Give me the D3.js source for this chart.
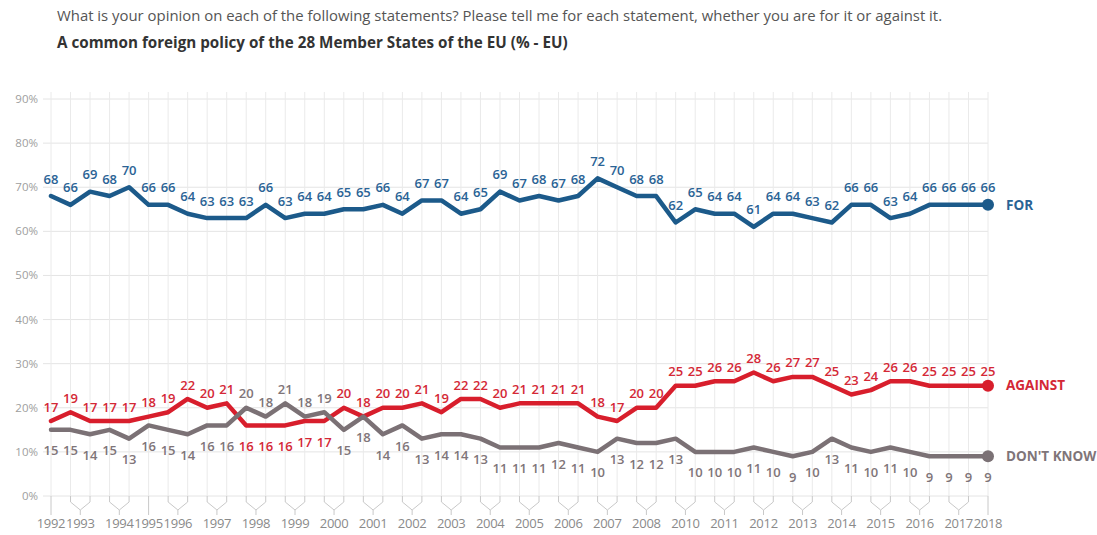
<!DOCTYPE html>
<html>
<head>
<meta charset="utf-8">
<script src="https://cdn.jsdelivr.net/npm/d3@7/dist/d3.min.js"></script>
<style>
  html, body { margin: 0; padding: 0; background: #fff; }
  svg { display: block; }
  text { font-family: "Open Sans", "Noto Sans", sans-serif; }
</style>
</head>
<body>
<svg id="chart" width="1097" height="535"></svg>
<script>
// Eurobarometer waves, spring and autumn of each year
const yearLabels = ["1992","1993","1994","1995","1996","1997","1998","1999","2000","2001","2002","2003","2004","2005","2006","2007","2008","2010","2011","2012","2013","2014","2015","2016","2017","2018"];
const wavesPerYear = [1,2,2,1,2,2,2,2,2,2,2,2,2,2,2,2,2,2,2,2,2,2,2,2,2,1];

const forValues = [68,66,69,68,70,66,66,64,63,63,63,66,63,64,64,65,65,66,64,67,67,64,65,69,67,68,67,68,72,70,68,68,62,65,64,64,61,64,64,63,62,66,66,63,64,66,66,66,66];
const againstValues = [17,19,17,17,17,18,19,22,20,21,16,16,16,17,17,20,18,20,20,21,19,22,22,20,21,21,21,21,18,17,20,20,25,25,26,26,28,26,27,27,25,23,24,26,26,25,25,25,25];
const dontKnowValues = [15,15,14,15,13,16,15,14,16,16,20,18,21,18,19,15,18,14,16,13,14,14,13,11,11,11,12,11,10,13,12,12,13,10,10,10,11,10,9,10,13,11,10,11,10,9,9,9,9];

const yTicks = [0,10,20,30,40,50,60,70,80,90];

const titleLine1 = "What is your opinion on each of the following statements? Please tell me for each statement, whether you are for it or against it.";
const titleLine2 = "A common foreign policy of the 28 Member States of the EU (% - EU)";

const series = [
  { name: "FOR", values: forValues, line: "#1c5a8a", text: "#2a6395", side: "above" },
  { name: "AGAINST", values: againstValues, line: "#d81e2c", text: "#d42836", side: "above" },
  { name: "DON'T KNOW", values: dontKnowValues, line: "#7b7175", text: "#7f7579", side: "below" }
];
// waves where the AGAINST and DON'T KNOW lines swap places, so labels swap sides
const swappedWaves = [10,11,12,13,14];

const svg = d3.select("#chart");
const n = forValues.length;

const x = d3.scalePoint().domain(d3.range(n)).range([51, 988]);
const y = d3.scaleLinear().domain([0, 90]).range([496, 99]);

// titles, fitted to their measured widths
function fit(sel, target) {
  const len = sel.node().getComputedTextLength();
  const fs = parseFloat(sel.attr("font-size"));
  sel.attr("font-size", fs * target / len);
}
const t1 = svg.append("text").attr("x", 57).attr("y", 21).attr("font-size", 14)
  .attr("fill", "#555").text(titleLine1);
fit(t1, 886);
const t2 = svg.append("text").attr("x", 57).attr("y", 48).attr("font-size", 14)
  .attr("font-weight", 700).attr("fill", "#333").text(titleLine2);
fit(t2, 511);

// grid
const grid = svg.append("g");
grid.selectAll("line.h").data(yTicks).join("line")
  .attr("x1", 43).attr("x2", 988)
  .attr("y1", d => y(d)).attr("y2", d => y(d))
  .attr("stroke", "#e4e4e4").attr("stroke-width", 1);
grid.selectAll("line.v").data(d3.range(n)).join("line")
  .attr("x1", d => x(d)).attr("x2", d => x(d))
  .attr("y1", 92).attr("y2", 496)
  .attr("stroke", "#eaeaea").attr("stroke-width", 1);

// y axis labels
svg.append("g").selectAll("text").data(yTicks).join("text")
  .attr("x", 38).attr("y", d => y(d)).attr("dy", "0.35em")
  .attr("text-anchor", "end").attr("font-size", 11.5).attr("fill", "#9e9e9e")
  .text(d => d + "%");

// year brackets on the x axis
let start = 0;
const groups = wavesPerYear.map((c, i) => {
  const g = { label: yearLabels[i], first: start, last: start + c - 1 };
  start += c;
  return g;
});
const axis = svg.append("g");
axis.selectAll("path").data(groups).join("path")
  .attr("fill", "none").attr("stroke", "#c8c8c8").attr("stroke-width", 1)
  .attr("d", g => {
    const x0 = x(g.first), x1 = x(g.last), xm = (x0 + x1) / 2;
    if (g.first === g.last) return `M${x0},496V515`;
    return `M${x0},496V502L${xm},510L${x1},502V496M${xm},510V515`;
  });
axis.selectAll("text").data(groups).join("text")
  .attr("x", g => (x(g.first) + x(g.last)) / 2).attr("y", 528)
  .attr("text-anchor", "middle").attr("font-size", 13).attr("fill", "#8a8a8a")
  .attr("letter-spacing", -0.3)
  .text(g => g.label);

// lines
const line = d3.line().x((d, i) => x(i)).y(d => y(d));
const lines = svg.append("g");
series.forEach(s => {
  lines.append("path").datum(s.values)
    .attr("fill", "none").attr("stroke", s.line).attr("stroke-width", 4.5)
    .attr("stroke-linejoin", "round").attr("stroke-linecap", "round")
    .attr("d", line);
  lines.append("circle").attr("cx", x(n - 1)).attr("cy", y(s.values[n - 1]))
    .attr("r", 6).attr("fill", s.line);
  lines.append("text").attr("x", 1006).attr("y", y(s.values[n - 1])).attr("dy", "0.35em")
    .attr("font-size", 13.5).attr("font-weight", 700).attr("fill", s.text)
    .text(s.name);
});

// value labels
const labels = svg.append("g");
series.forEach((s, si) => {
  labels.selectAll(null).data(s.values).join("text")
    .attr("x", (d, i) => x(i))
    .attr("y", (d, i) => {
      let side = s.side;
      if (si > 0 && swappedWaves.includes(i)) side = side === "above" ? "below" : "above";
      if (side === "above") return y(d) - (si === 0 ? 17 : 14);
      return y(d) + 21;
    })
    .attr("dy", "0.35em")
    .attr("text-anchor", "middle").attr("font-size", 13).attr("font-weight", 600)
    .attr("fill", s.text)
    .text(d => d);
});
</script>
</body>
</html>
